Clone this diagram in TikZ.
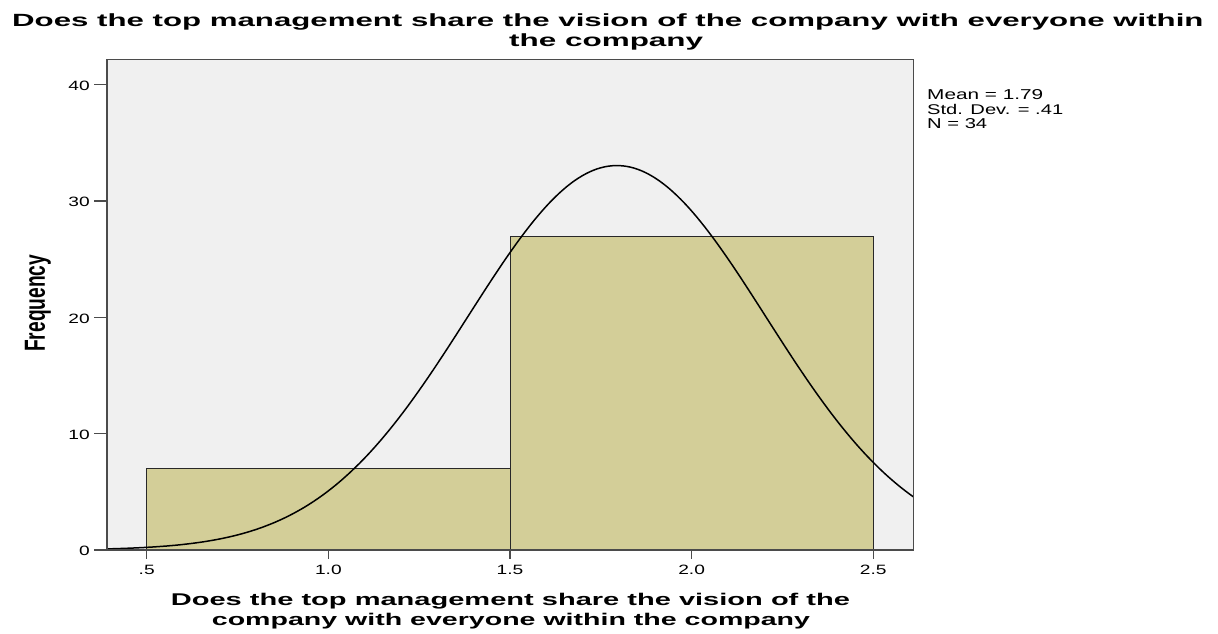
\documentclass[tikz,border=0pt]{standalone}
\usepackage{fontspec}
\setmainfont{Liberation Sans}
\usepackage{graphicx}
\definecolor{plotbg}{RGB}{240,240,240}
\definecolor{barfill}{RGB}{211,206,152}
\definecolor{framec}{RGB}{75,75,75}
\definecolor{baredge}{RGB}{40,40,40}
\begin{document}
\begin{tikzpicture}[x=1pt,y=-1pt,
  lbl/.style={inner sep=0pt, font=\fontsize{13.5}{15}\selectfont},
  bigtxt/.style={inner sep=0pt, anchor=base west},
  bar/.style={fill=barfill, draw=baredge, line width=1pt},
  tick/.style={draw=framec, line width=1.3pt},
  curve/.style={draw=black, line width=1.5pt},
]
\useasboundingbox (0,0) rectangle (1218,633);
\fill[white] (0,0) rectangle (1218,633);
% plot background
\fill[plotbg] (107,59.3) rectangle (913.3,550);
% bars
\draw[bar] (146.7,550) rectangle (510,468.6);
\draw[bar] (510,550) rectangle (873.3,236.0);
% normal curve
\begin{scope}
\clip (107,59.3) rectangle (913.3,550);
\draw[curve] plot[domain=0.38:2.62, samples=220, smooth]
  ({146.7+(\x-0.5)*363.3},{550-33.05*exp(-0.5*((\x-1.794)/0.4104)^2)*11.63});
\end{scope}
% frame
\draw[draw=framec, line width=1.5pt] (107,59.3) rectangle (913.3,550);
% y ticks
\foreach \v/\yy in {0/550,10/433.7,20/317.4,30/201.1,40/84.8}{
  \coordinate (yt\v) at (107,\yy);
  \coordinate (ytl\v) at (94,\yy);
  \draw[tick] (yt\v) -- (ytl\v);
  \node[lbl, anchor=east] (ylbl\v) at (90,\yy+1) {\scalebox{1.42}[1]{\v}};
}
% x ticks
\foreach \k/\t in {0/.5,1/1.0,2/1.5,3/2.0,4/2.5}{
  \coordinate (xt\k) at ({146.7+\k*181.65},550);
  \coordinate (xtl\k) at ({146.7+\k*181.65},558.5);
  \draw[tick] (xt\k) -- (xtl\k);
  \node[lbl, anchor=base] (xlbl\k) at ({146.7+\k*181.65},574.3) {\scalebox{1.42}[1]{\t}};
}
% titles
\node[bigtxt] (title1) at (12,26.7) {\resizebox{1191pt}{12.8pt}{\bfseries Does the top management share the vision of the company with everyone within}};
\node[bigtxt] (title2) at (509,46) {\resizebox{194pt}{12.8pt}{\bfseries the company}};
\node[bigtxt] (xtitle1) at (170.7,605) {\resizebox{679pt}{12.3pt}{\bfseries Does the top management share the vision of the}};
\node[bigtxt] (xtitle2) at (211.7,625) {\resizebox{598pt}{12.3pt}{\bfseries company with everyone within the company}};
\node[bigtxt, rotate=90] (ylab) at (45,352) {\resizebox{97pt}{20pt}{\bfseries Frequency}};
% statistics
\node[bigtxt] (stat1) at (927,99) {\resizebox{116pt}{10pt}{Mean = 1.79}};
\node[bigtxt] (stat2) at (927,114) {\resizebox{136pt}{10.2pt}{Std. Dev. = .41}};
\node[bigtxt] (stat3) at (927,128) {\resizebox{60pt}{10pt}{N = 34}};
\end{tikzpicture}
\end{document}
